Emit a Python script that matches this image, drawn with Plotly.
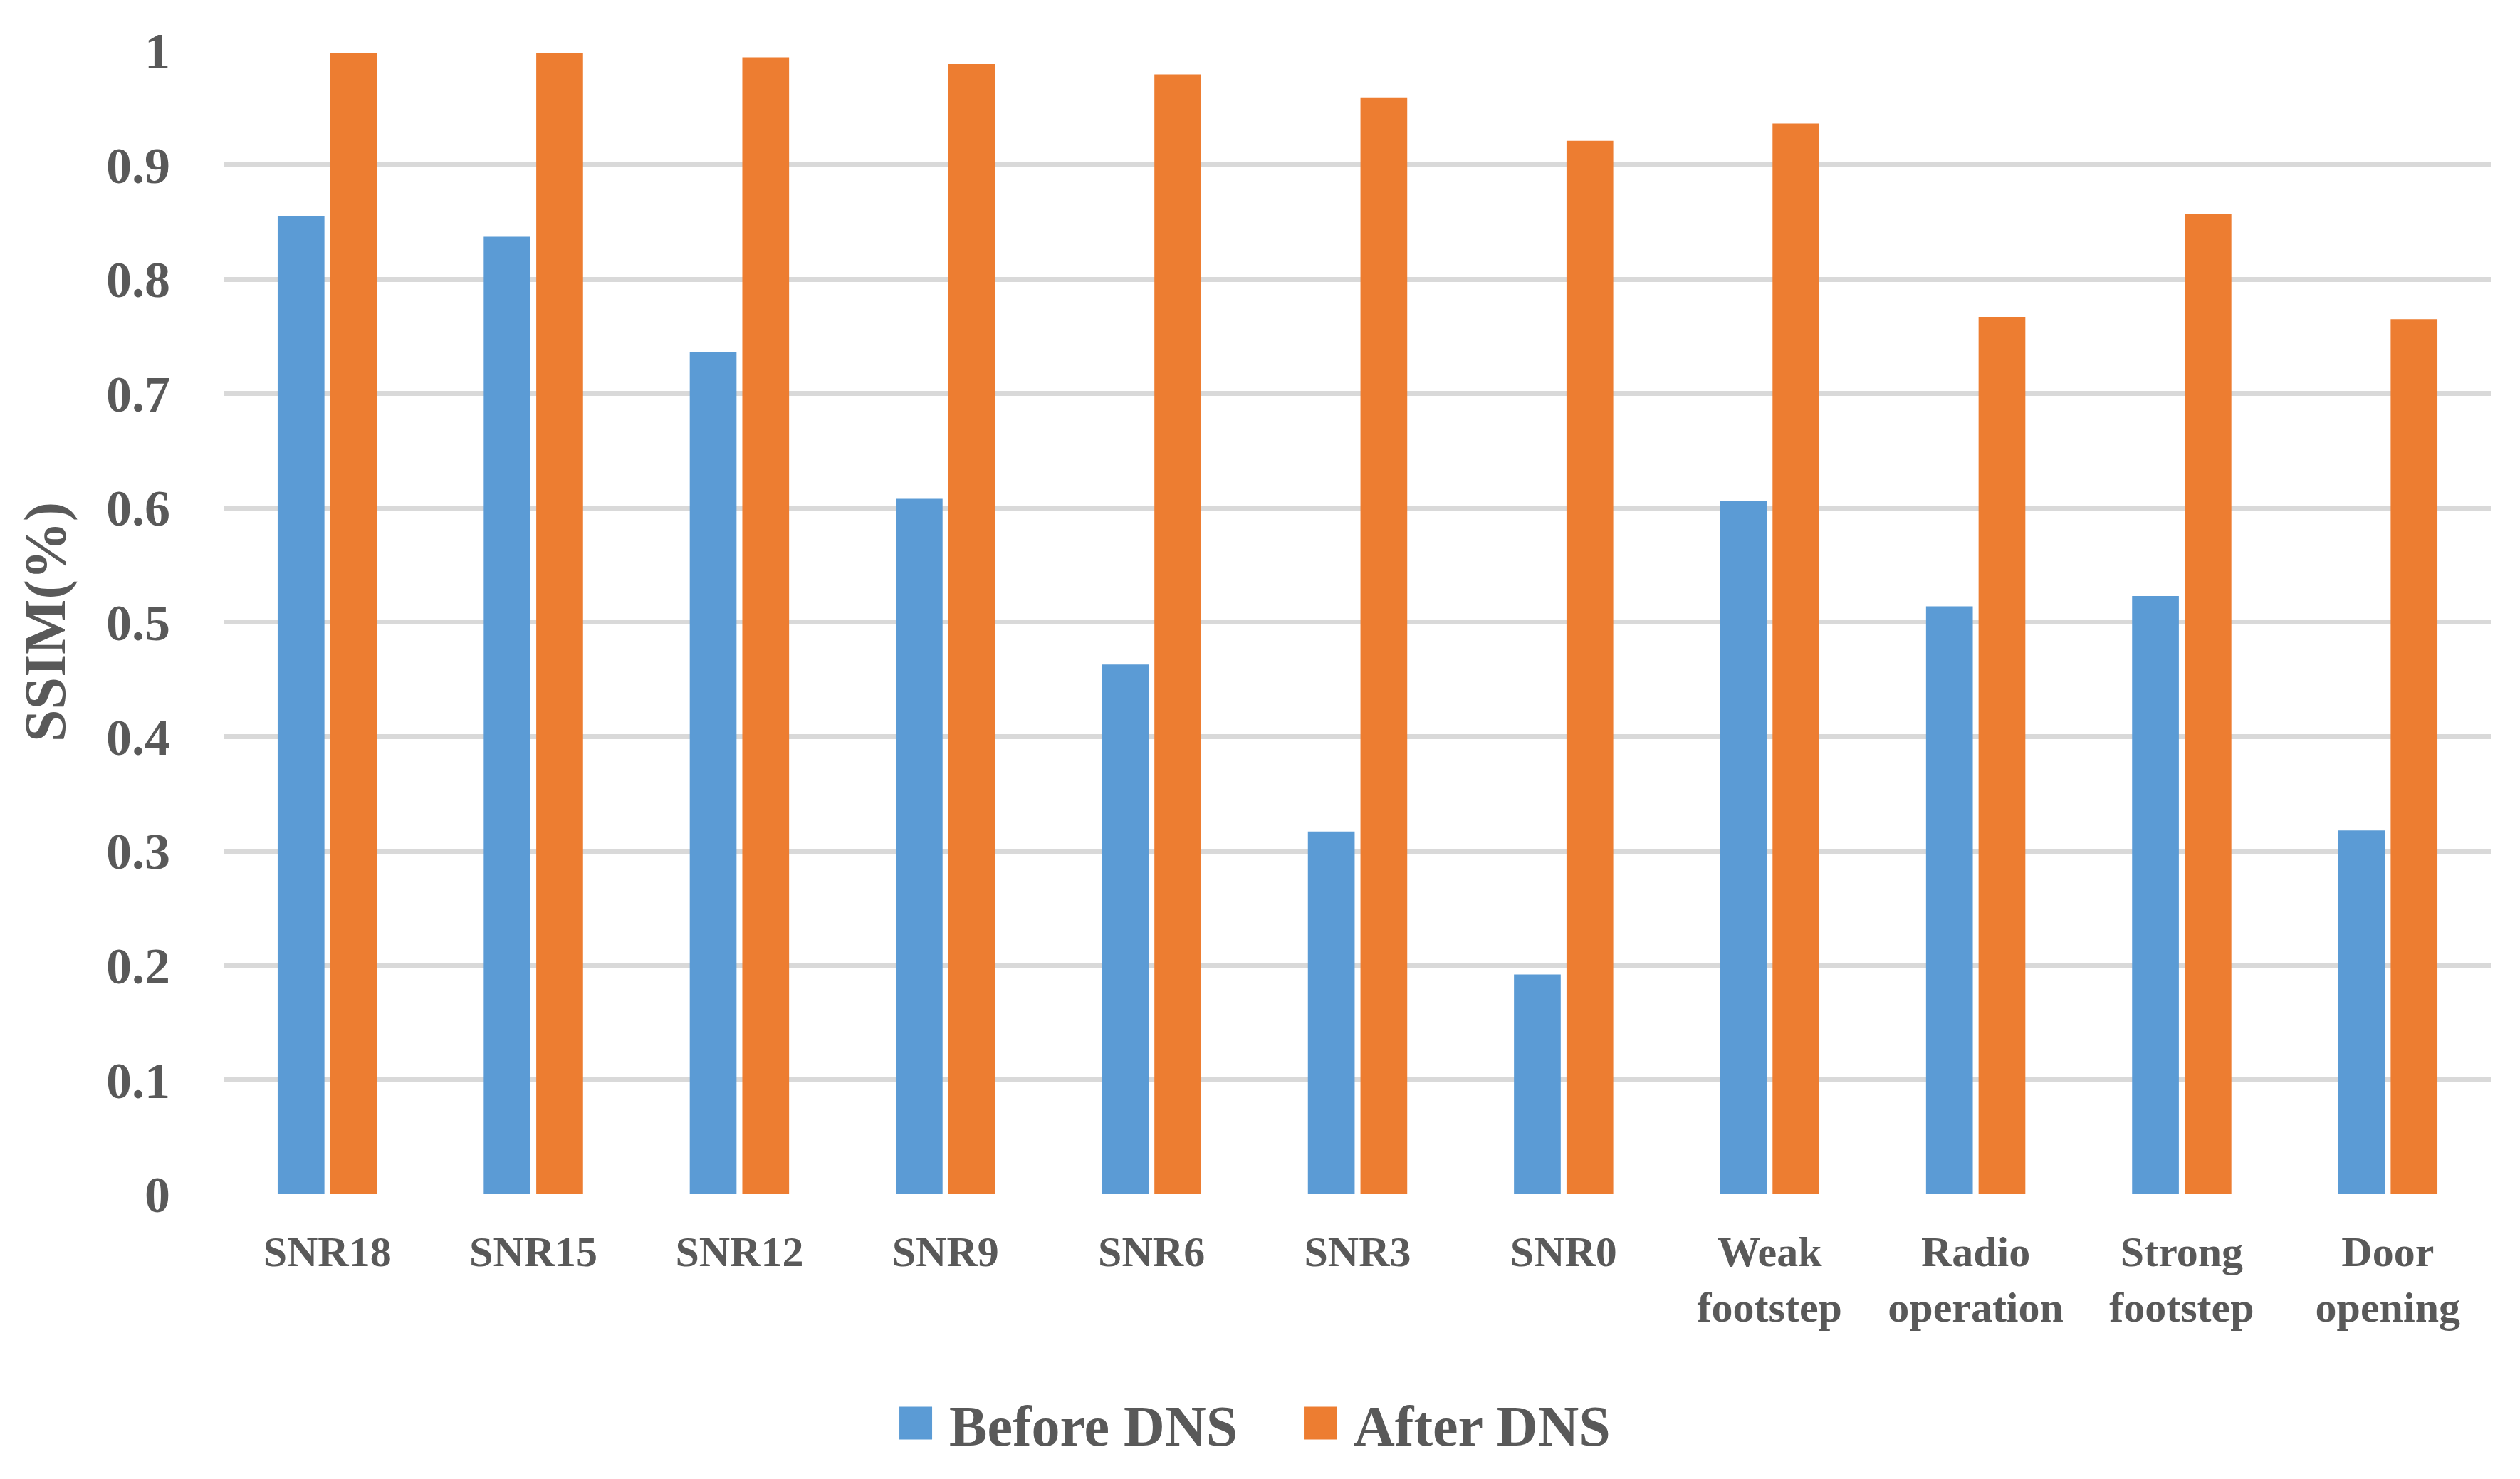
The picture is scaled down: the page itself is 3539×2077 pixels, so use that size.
import plotly.graph_objects as go

categories = ["SNR18", "SNR15", "SNR12", "SNR9", "SNR6", "SNR3", "SNR0",
              "Weak<br>footstep", "Radio<br>operation", "Strong<br>footstep", "Door<br>opening"]
before_dns = [0.855, 0.837, 0.736, 0.608, 0.463, 0.317, 0.192, 0.606, 0.514, 0.523, 0.318]
after_dns = [0.998, 0.998, 0.994, 0.988, 0.979, 0.959, 0.921, 0.936, 0.767, 0.857, 0.765]
y_ticks = [0, 0.1, 0.2, 0.3, 0.4, 0.5, 0.6, 0.7, 0.8, 0.9, 1]
y_tick_labels = ["0", "0.1", "0.2", "0.3", "0.4", "0.5", "0.6", "0.7", "0.8", "0.9", "1"]

FONT = "Liberation Serif"
TXT = "#595959"

fig = go.Figure()
fig.add_trace(go.Bar(x=categories, y=before_dns, name="Before DNS",
                     marker=dict(color="#5B9BD5", line=dict(width=0))))
fig.add_trace(go.Bar(x=categories, y=after_dns, name="After DNS",
                     marker=dict(color="#ED7D31", line=dict(width=0))))

# page body has an 8px default margin; compensate so the plot lands where the reference has it
fig.update_layout(
    width=3531, height=2069,
    paper_bgcolor="white", plot_bgcolor="white",
    margin=dict(l=307, r=41, t=62, b=400, autoexpand=False),
    barmode="group", bargap=0.49, bargroupgap=0.11,
    font=dict(family=FONT, color=TXT),
    showlegend=True,
    legend=dict(orientation="h", x=0.5095, xref="container", xanchor="center",
                y=-0.2, yanchor="middle",
                font=dict(family=FONT, size=80, color=TXT, weight="bold"),
                itemwidth=84, entrywidth=469, traceorder="normal"),
)
fig.update_xaxes(
    showgrid=False, showline=False, zeroline=False, ticks="",
    tickfont=dict(family=FONT, size=60, color=TXT, weight="bold"),
    ticklabelstandoff=40,
)
fig.update_yaxes(
    range=[0, 1.0005], tickmode="array", tickvals=y_ticks, ticktext=y_tick_labels,
    showgrid=True, gridcolor="#D9D9D9", gridwidth=7,
    zeroline=False, showline=False, ticks="",
    tickfont=dict(family=FONT, size=72, color=TXT, weight="bold"),
    ticklabelstandoff=75,
    title=dict(text="SSIM(%)", standoff=30,
               font=dict(family=FONT, size=82, color=TXT, weight="bold")),
)

# enlarge the legend swatches (plotly draws bar legend symbols at a fixed 12px)
post = """
(function(){
  var gd = document.getElementById('{plot_id}');
  function bigSwatch(){
    var ps = gd.querySelectorAll('g.legendpoints path');
    for (var i = 0; i < ps.length; i++) {
      ps[i].setAttribute('d', 'M23,23H-23V-23H23Z');
    }
  }
  bigSwatch();
  if (gd.on) { gd.on('plotly_afterplot', bigSwatch); }
  setTimeout(bigSwatch, 50);
  setTimeout(bigSwatch, 300);
})();
"""

fig.write_html("out.html", post_script=post)
